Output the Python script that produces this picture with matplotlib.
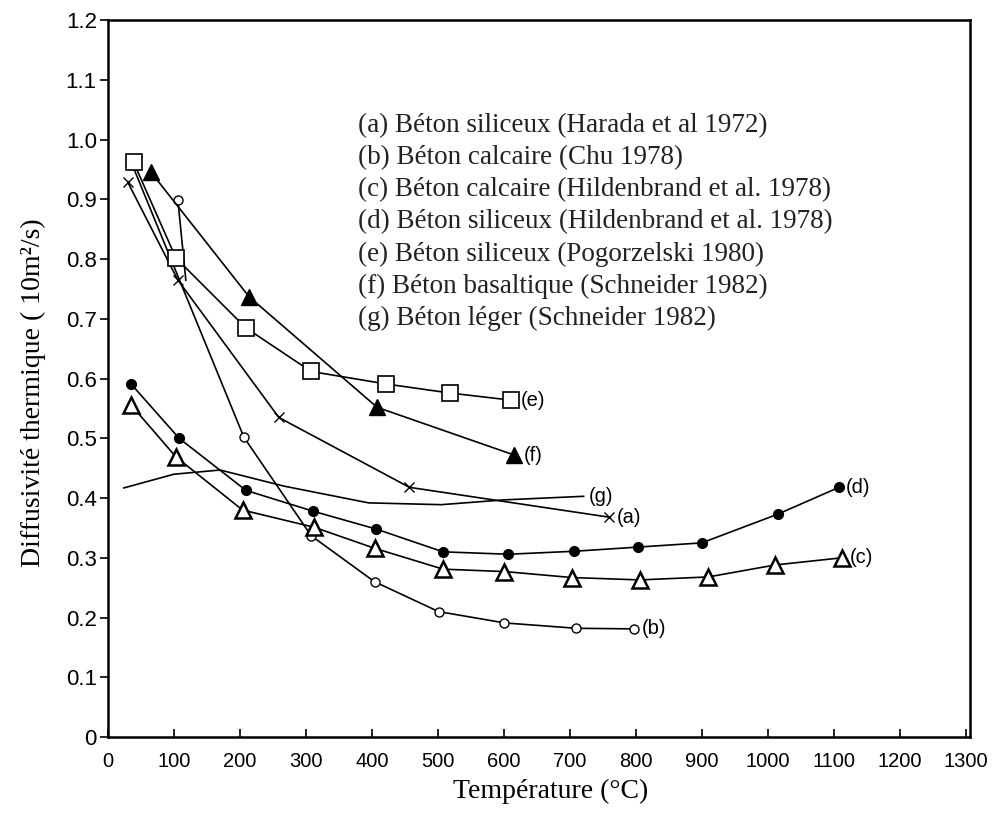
import matplotlib.pyplot as plt

# ---- données (température en °C, diffusivité) ----
a_temp = [30, 106, 259, 457, 760]
a_val = [0.929, 0.765, 0.535, 0.418, 0.368]

b_temp = [38, 206, 308, 404, 501, 601, 710, 797]
b_val = [0.955, 0.502, 0.337, 0.260, 0.210, 0.191, 0.182, 0.181]
b_branch_temp = [106, 118]          # point isolé à 100 °C rejoignant la courbe
b_branch_val = [0.899, 0.765]

c_temp = [35, 103, 204, 313, 404, 508, 601, 703, 806, 910, 1011, 1112]
c_val = [0.556, 0.469, 0.380, 0.351, 0.316, 0.281, 0.277, 0.267, 0.263, 0.268, 0.288, 0.300]

d_temp = [35, 108, 209, 311, 407, 508, 607, 707, 804, 900, 1015, 1108]
d_val = [0.591, 0.500, 0.413, 0.378, 0.348, 0.310, 0.306, 0.311, 0.318, 0.325, 0.373, 0.418]

e_temp = [39, 103, 209, 308, 422, 518, 611]
e_val = [0.962, 0.802, 0.685, 0.612, 0.591, 0.576, 0.564]

f_temp = [65, 214, 408, 616]
f_val = [0.946, 0.737, 0.552, 0.472]

g_temp = [24, 100, 170, 267, 395, 505, 600, 721]
g_val = [0.417, 0.440, 0.447, 0.420, 0.392, 0.389, 0.397, 0.403]

legende = [
    "(a) Béton siliceux (Harada et al 1972)",
    "(b) Béton calcaire (Chu 1978)",
    "(c) Béton calcaire (Hildenbrand et al. 1978)",
    "(d) Béton siliceux (Hildenbrand et al. 1978)",
    "(e) Béton siliceux (Pogorzelski 1980)",
    "(f) Béton basaltique (Schneider 1982)",
    "(g) Béton léger (Schneider 1982)",
]

x_ticks = list(range(0, 1400, 100))
y_ticks = [0, 0.1, 0.2, 0.3, 0.4, 0.5, 0.6, 0.7, 0.8, 0.9, 1.0, 1.1, 1.2]
y_tick_labels = ["0", "0.1", "0.2", "0.3", "0.4", "0.5", "0.6", "0.7", "0.8", "0.9", "1.0", "1.1", "1.2"]

SERIF = ["Liberation Serif", "DejaVu Serif"]
SANS = ["Liberation Sans", "DejaVu Sans"]

fig = plt.figure(figsize=(9.95, 8.13), dpi=100)
ax = fig.add_axes([0.1085, 0.0935, 0.866, 0.8815])

lw = 1.2
ax.plot(a_temp, a_val, color="black", lw=lw, marker="x", ms=7, mew=1.0)
ax.plot(b_temp, b_val, color="black", lw=lw, marker="o", ms=6.5, mfc="white", mew=1.0,
        markevery=list(range(1, len(b_temp))))
ax.plot(b_branch_temp, b_branch_val, color="black", lw=lw)
ax.plot(b_branch_temp[:1], b_branch_val[:1], color="black", ls="none", marker="o",
        ms=6.5, mfc="white", mew=1.0)
ax.plot(c_temp, c_val, color="black", lw=lw, marker="^", ms=11, mfc="white", mew=1.8)
ax.plot(d_temp, d_val, color="black", lw=lw, marker="o", ms=7)
ax.plot(e_temp, e_val, color="black", lw=lw, marker="s", ms=12, mfc="white", mew=1.2)
ax.plot(f_temp, f_val, color="black", lw=lw, marker="^", ms=11)
ax.plot(g_temp, g_val, color="black", lw=lw)

# étiquettes en bout de courbe
fin = [("(a)", a_temp, a_val, 5), ("(b)", b_temp, b_val, 6), ("(c)", c_temp, c_val, 6),
       ("(d)", d_temp, d_val, 5), ("(e)", e_temp, e_val, 7), ("(f)", f_temp, f_val, 7),
       ("(g)", g_temp, g_val, 4)]
for lab, xs, ys, dx in fin:
    ax.annotate(lab, (xs[-1], ys[-1]), xytext=(dx, 0), textcoords="offset points",
                ha="left", va="center", fontsize=14.5, family=SANS)

# légende en texte libre
for i, t in enumerate(legende):
    ax.text(379, 1.024 - i * 0.0538, t, ha="left", va="center", fontsize=19.5, family=SERIF,
            color="#222222")

ax.set_xlim(0, 1306)
ax.set_ylim(0, 1.2)
ax.set_xticks(x_ticks)
ax.set_xticklabels([str(v) for v in x_ticks], family=SANS, fontsize=14.5)
ax.set_yticks(y_ticks)
ax.set_yticklabels(y_tick_labels, family=SANS, fontsize=16)
ax.tick_params(axis="x", direction="in", length=6, width=1.2, pad=11)
ax.tick_params(axis="y", direction="out", length=6, width=1.2, pad=2)
for s in ax.spines.values():
    s.set_linewidth(1.8)

ax.set_xlabel("Température (°C)", family=SERIF, fontsize=20)
ax.set_ylabel("Diffusivité thermique ( 10m²/s)", family=SERIF, fontsize=20)
ax.xaxis.set_label_coords(0.514, -0.058)
ax.yaxis.set_label_coords(-0.072, 0.48)

fig.savefig("out.png", dpi=100)
